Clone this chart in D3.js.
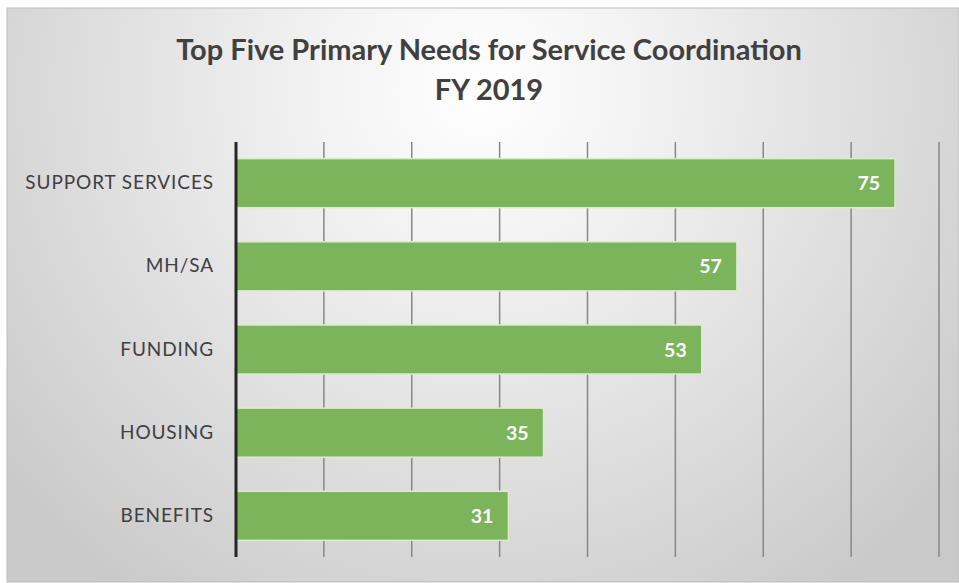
<!DOCTYPE html>
<html>
<head>
<meta charset="utf-8">
<script src="https://cdn.jsdelivr.net/npm/d3@7"></script>
<style>
  html, body { margin: 0; padding: 0; background: #ffffff; }
  svg { display: block; }
</style>
</head>
<body>
<svg id="chart" width="959" height="583"></svg>
<script>
// Chart data
const categories = ["SUPPORT SERVICES", "MH/SA", "FUNDING", "HOUSING", "BENEFITS"];
const values = [75, 57, 53, 35, 31];
const xTicks = [0, 10, 20, 30, 40, 50, 60, 70, 80];
const titleLines = ["Top Five Primary Needs for Service Coordination", "FY 2019"];

const W = 959, H = 583;
const svg = d3.select("#chart");
const font = "Lato, 'Open Sans', sans-serif";

// Background panel with soft radial shading
const defs = svg.append("defs");
const grad = defs.append("radialGradient")
  .attr("id", "bg")
  .attr("gradientUnits", "userSpaceOnUse")
  .attr("cx", 480).attr("cy", 90).attr("r", 620);
grad.append("stop").attr("offset", "0").attr("stop-color", "#ffffff");
grad.append("stop").attr("offset", "0.25").attr("stop-color", "#f3f3f3");
grad.append("stop").attr("offset", "0.7").attr("stop-color", "#dadada");
grad.append("stop").attr("offset", "1").attr("stop-color", "#c9c9c9");

svg.append("rect")
  .attr("x", 7).attr("y", 8).attr("width", W - 7).attr("height", H - 9)
  .attr("fill", "url(#bg)")
  .attr("stroke", "#bdbdbd").attr("stroke-width", 1);

// Scales
const margin = { left: 236, right: 20, top: 142, bottom: 26 };
const x = d3.scaleLinear().domain([0, 80]).range([margin.left, margin.left + 703]);
const y = d3.scaleBand().domain(categories).range([margin.top, H - margin.bottom])
  .paddingInner(0.41).paddingOuter(0.2);

// Vertical gridlines
svg.append("g").selectAll("line")
  .data(xTicks.slice(1))
  .join("line")
  .attr("x1", d => x(d)).attr("x2", d => x(d))
  .attr("y1", margin.top).attr("y2", H - margin.bottom)
  .attr("stroke", "#878787").attr("stroke-width", 1.5);

// Bars
svg.append("g").selectAll("rect")
  .data(categories)
  .join("rect")
  .attr("x", x(0))
  .attr("y", d => y(d))
  .attr("width", (d, i) => x(values[i]) - x(0))
  .attr("height", y.bandwidth())
  .attr("fill", "#7cb45c")
  .attr("stroke", "#d9edcc").attr("stroke-width", 1.5);

// Value labels inside bar ends
svg.append("g").selectAll("text")
  .data(categories)
  .join("text")
  .attr("x", (d, i) => x(values[i]) - 15)
  .attr("y", d => y(d) + y.bandwidth() / 2)
  .attr("dy", "0.36em")
  .attr("text-anchor", "end")
  .attr("font-family", font)
  .attr("font-weight", "bold")
  .attr("font-size", 19.5)
  .attr("fill", "#ffffff")
  .text((d, i) => values[i]);

// Category axis
const yAxis = d3.axisLeft(y).tickSize(0).tickPadding(22);
const ya = svg.append("g").attr("transform", `translate(${x(0)},0)`).call(yAxis);
ya.select(".domain").remove();
ya.selectAll("text")
  .attr("font-family", font)
  .attr("font-size", 19)
  .attr("letter-spacing", "0.9px")
  .attr("fill", "#404040");

// Axis line
svg.append("line")
  .attr("x1", x(0)).attr("x2", x(0))
  .attr("y1", margin.top).attr("y2", H - margin.bottom)
  .attr("stroke", "#262626").attr("stroke-width", 3);

// Title
svg.append("g").selectAll("text")
  .data(titleLines)
  .join("text")
  .attr("x", 489)
  .attr("y", (d, i) => 60 + i * 40)
  .attr("text-anchor", "middle")
  .attr("font-family", font)
  .attr("font-weight", "bold")
  .attr("font-size", 29)
  .attr("fill", "#404040")
  .text(d => d);
</script>
</body>
</html>
